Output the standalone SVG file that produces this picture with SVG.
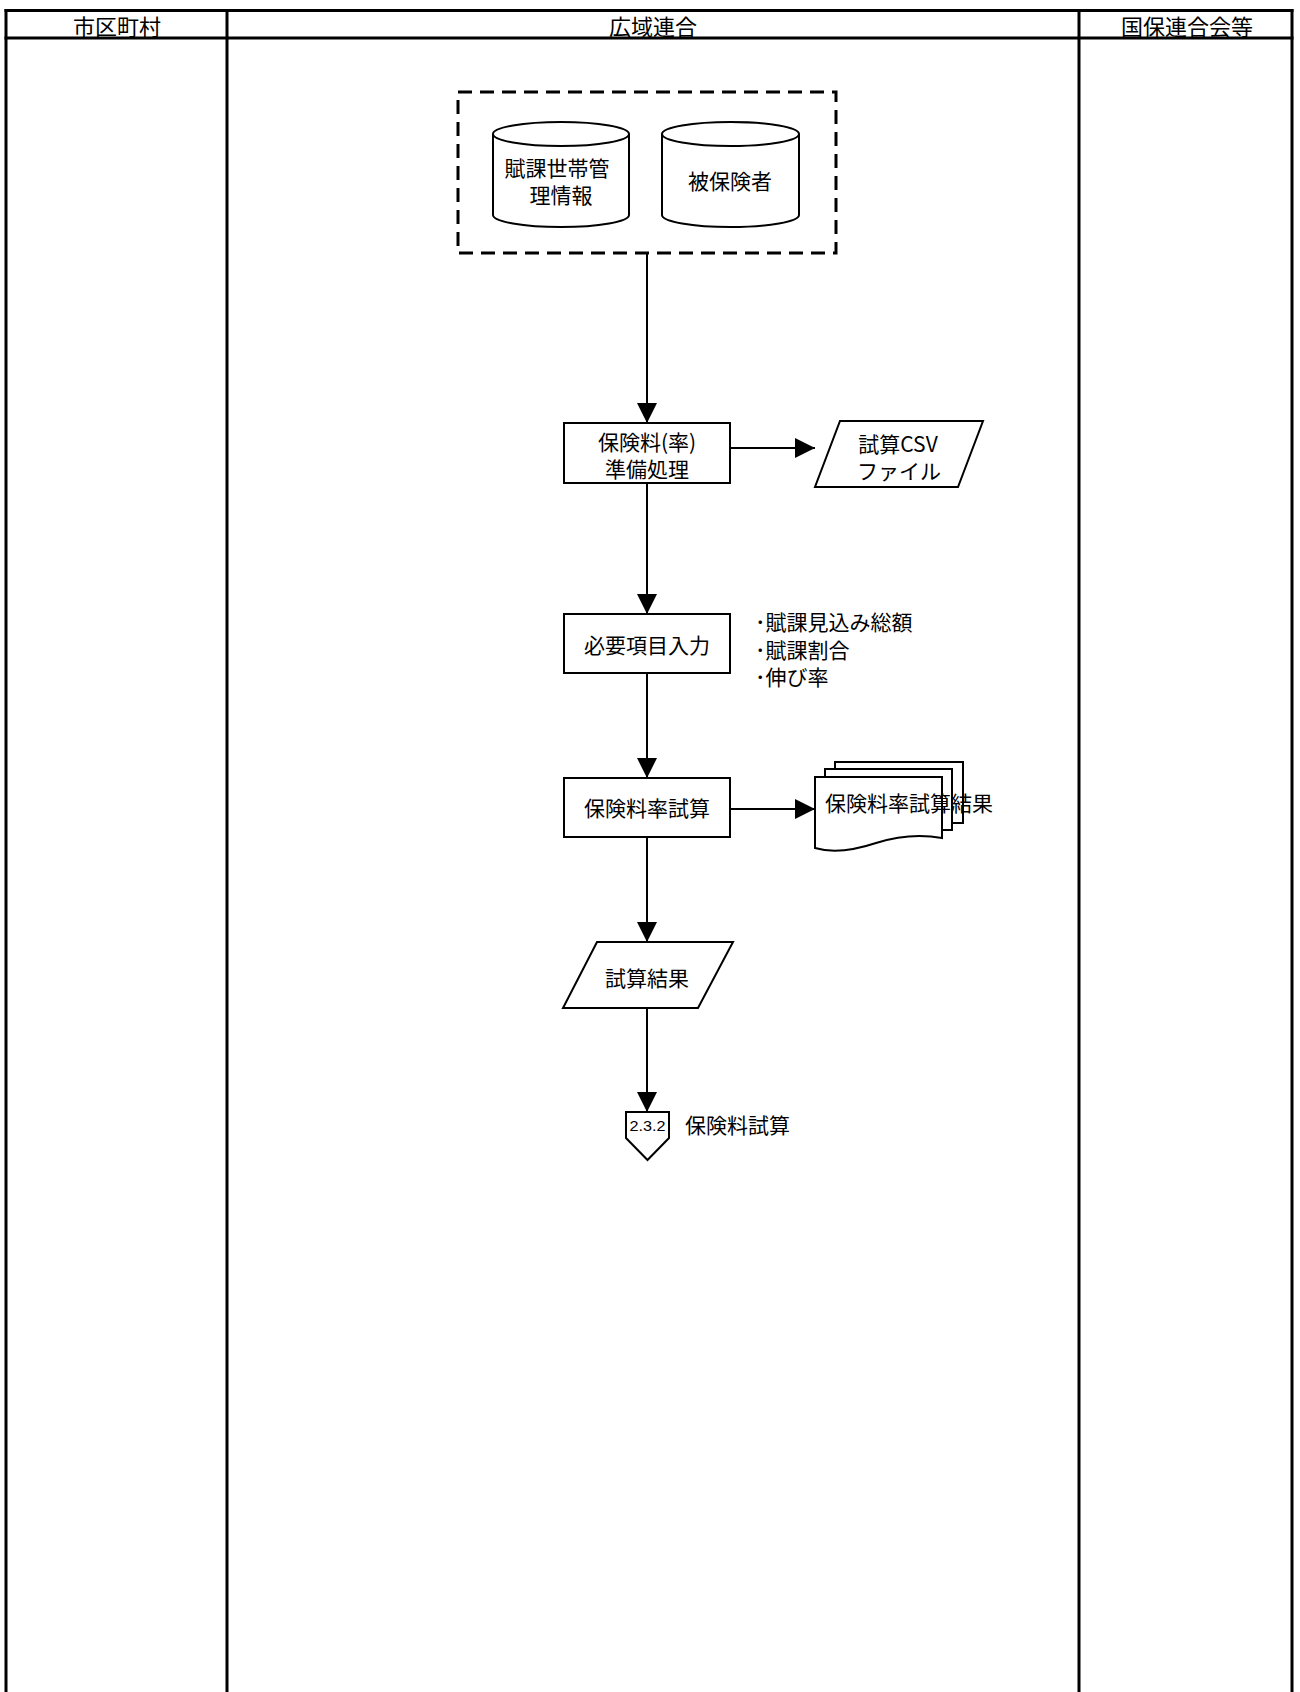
<svg xmlns="http://www.w3.org/2000/svg" width="1300" height="1692" viewBox="0 0 1300 1692">
<defs>
<style>
.lane{stroke:#000;stroke-width:3;fill:none}
.hdr{font-family:"Noto Sans CJK JP","Noto Sans",sans-serif;font-size:22px;fill:#000;text-anchor:middle;dominant-baseline:central}
.t{font-family:"Noto Sans CJK JP","Noto Sans",sans-serif;font-size:21px;fill:#000;text-anchor:middle;dominant-baseline:central}
.tl{font-family:"Noto Sans CJK JP","Noto Sans",sans-serif;font-size:21px;fill:#000;text-anchor:start;dominant-baseline:central}
.sm{font-family:"Liberation Sans","Noto Sans",sans-serif;font-size:15px;fill:#000;text-anchor:middle;dominant-baseline:central}
.shape{fill:#fff;stroke:#000;stroke-width:2}
.conn{stroke:#000;stroke-width:2;fill:none}
</style>
<marker id="arr" viewBox="0 0 10 10" refX="10" refY="5" markerWidth="20" markerHeight="20" markerUnits="userSpaceOnUse" orient="auto">
<path d="M0,0 L10,5 L0,10 Z" fill="#000"/>
</marker>
</defs>
<rect width="1300" height="1692" fill="#fff"/>
<g id="lanes">
<line class="lane" x1="4.5" y1="10.5" x2="1293.5" y2="10.5"/>
<line class="lane" x1="4.5" y1="38" x2="1293.5" y2="38"/>
<line class="lane" x1="6" y1="9" x2="6" y2="1692"/>
<line class="lane" x1="227" y1="9" x2="227" y2="1692"/>
<line class="lane" x1="1079" y1="9" x2="1079" y2="1692"/>
<line class="lane" x1="1292" y1="9" x2="1292" y2="1692"/>
<text class="hdr" x="117" y="25">市区町村</text>
<text class="hdr" x="653" y="25">広域連合</text>
<text class="hdr" x="1187" y="25">国保連合会等</text>
</g>
<g id="connectors">
<line class="conn" x1="647" y1="253" x2="647" y2="423" marker-end="url(#arr)"/>
<line class="conn" x1="730" y1="448" x2="815" y2="448" marker-end="url(#arr)"/>
<line class="conn" x1="647" y1="483" x2="647" y2="614" marker-end="url(#arr)"/>
<line class="conn" x1="647" y1="673" x2="647" y2="778" marker-end="url(#arr)"/>
<line class="conn" x1="730" y1="809" x2="815" y2="809" marker-end="url(#arr)"/>
<line class="conn" x1="647" y1="837" x2="647" y2="942" marker-end="url(#arr)"/>
<line class="conn" x1="647" y1="1008" x2="647" y2="1112" marker-end="url(#arr)"/>
</g>
<g id="dbgroup">
<rect x="458" y="92" width="378" height="161" fill="none" stroke="#000" stroke-width="3" stroke-dasharray="14 8"/>
</g>
<g id="db1">
<path class="shape" d="M493,134 A68,12 0 0,1 629,134 L629,215 A68,12 0 0,1 493,215 Z"/>
<path class="conn" d="M493,134 A68,12 0 0,0 629,134"/>
<text class="t" x="557" y="167">賦課世帯管</text>
<text class="t" x="561" y="194">理情報</text>
</g>
<g id="db2">
<path class="shape" d="M662,134 A68.5,12 0 0,1 799,134 L799,215 A68.5,12 0 0,1 662,215 Z"/>
<path class="conn" d="M662,134 A68.5,12 0 0,0 799,134"/>
<text class="t" x="730" y="180">被保険者</text>
</g>
<g id="prep">
<rect class="shape" x="564" y="423" width="166" height="60"/>
<text class="t" x="647" y="441">保険料(率)</text>
<text class="t" x="647" y="468">準備処理</text>
</g>
<g id="csv">
<polygon class="shape" points="840,421 983,421 958,487 815,487"/>
<text class="t" x="898" y="443">試算CSV</text>
<text class="t" x="899" y="470">ファイル</text>
</g>
<g id="input">
<rect class="shape" x="564" y="614" width="166" height="59"/>
<text class="t" x="647" y="644">必要項目入力</text>
</g>
<g id="notes">
<text class="tl" x="755" y="621">･賦課見込み総額</text>
<text class="tl" x="755" y="649">･賦課割合</text>
<text class="tl" x="755" y="676">･伸び率</text>
</g>
<g id="calc">
<rect class="shape" x="564" y="778" width="166" height="59"/>
<text class="t" x="647" y="807">保険料率試算</text>
</g>
<g id="docs">
<rect class="shape" x="835" y="762" width="128" height="61"/>
<rect class="shape" x="825" y="769" width="127" height="61"/>
<path class="shape" d="M815,777 H942 V838 C920,834 898,836 876,843 C852,851 832,853 815,848 Z"/>
<text class="tl" x="825" y="802">保険料率試算結果</text>
</g>
<g id="result">
<polygon class="shape" points="597,942 733,942 698,1008 563,1008"/>
<text class="t" x="647" y="977">試算結果</text>
</g>
<g id="offpage">
<polygon class="shape" points="626,1112 669,1112 669,1138 647.5,1160 626,1138"/>
<text class="sm" x="647.5" y="1125" textLength="36" lengthAdjust="spacingAndGlyphs">2.3.2</text>
<text class="tl" x="685" y="1124">保険料試算</text>
</g>
</svg>
